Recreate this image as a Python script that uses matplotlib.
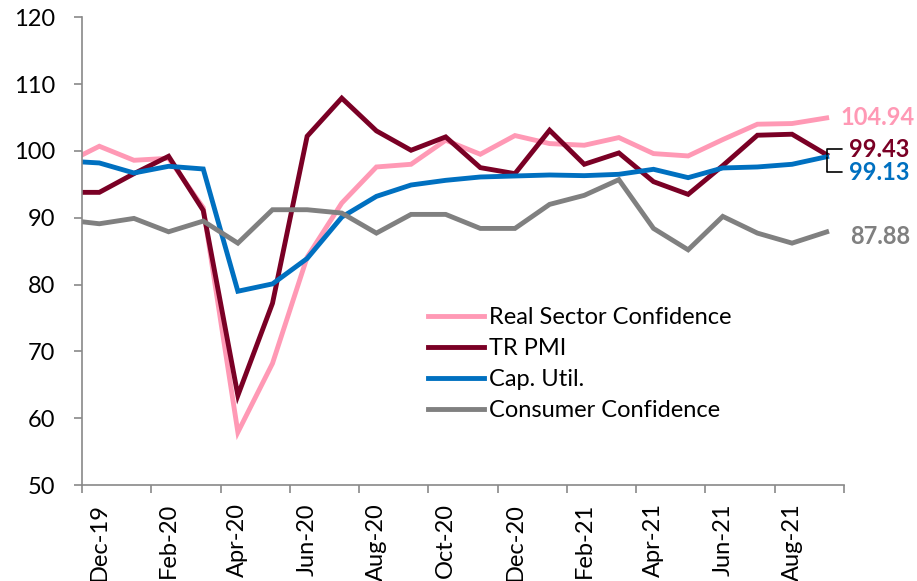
import matplotlib.pyplot as plt
import numpy as np

plt.rcParams['font.family'] = ['Lato', 'DejaVu Sans']

# months: Nov-19 (partly cut at the left edge) through Sep-21
months = ['Nov-19', 'Dec-19', 'Jan-20', 'Feb-20', 'Mar-20', 'Apr-20', 'May-20', 'Jun-20',
          'Jul-20', 'Aug-20', 'Sep-20', 'Oct-20', 'Nov-20', 'Dec-20', 'Jan-21', 'Feb-21',
          'Mar-21', 'Apr-21', 'May-21', 'Jun-21', 'Jul-21', 'Aug-21', 'Sep-21']

real_sector = [98.1, 100.7, 98.6, 98.9, 91.5, 57.9, 68.2, 84.1, 92.2, 97.6, 98.0, 101.6,
               99.5, 102.3, 101.1, 100.85, 102.0, 99.6, 99.25, 101.7, 104.0, 104.1, 104.94]
tr_pmi = [93.8, 93.8, 96.6, 99.2, 91.1, 63.4, 77.2, 102.2, 107.9, 103.0, 100.1, 102.1,
          97.5, 96.6, 103.1, 98.0, 99.7, 95.4, 93.5, 97.8, 102.35, 102.5, 99.43]
cap_util = [98.5, 98.2, 96.7, 97.7, 97.3, 79.0, 80.1, 83.9, 90.1, 93.2, 94.9, 95.6,
            96.1, 96.25, 96.4, 96.3, 96.5, 97.25, 96.0, 97.45, 97.6, 98.0, 99.13]
consumer = [89.7, 89.1, 89.9, 87.9, 89.5, 86.2, 91.2, 91.2, 90.7, 87.7, 90.5, 90.5,
            88.4, 88.4, 92.0, 93.35, 95.7, 88.4, 85.2, 90.2, 87.7, 86.2, 87.88]

x = np.arange(len(months)) - 1  # Dec-19 at 0

c_pink = '#FF99B5'
c_maroon = '#7A0025'
c_blue = '#0070C0'
c_gray = '#808080'

fig = plt.figure(figsize=(9.17, 5.81), dpi=100)
ax = fig.add_axes([82 / 917, 1 - 485 / 581, (844 - 82) / 917, (485 - 17.3) / 581])

lw = 3.5
ax.plot(x, real_sector, color=c_pink, lw=lw, label='Real Sector Confidence', solid_joinstyle='miter')
ax.plot(x, tr_pmi, color=c_maroon, lw=lw, label='TR PMI', solid_joinstyle='miter')
ax.plot(x, cap_util, color=c_blue, lw=lw, label='Cap. Util.', solid_joinstyle='miter')
ax.plot(x, consumer, color=c_gray, lw=lw, label='Consumer Confidence', solid_joinstyle='miter')

ax.set_xlim(-0.5, len(months) - 1.5)
ax.set_ylim(50, 120)
ax.set_yticks(range(50, 121, 10))

# category boundaries as ticks, labels centered on every second month
ax.set_xticks(np.arange(-0.5, len(months) - 1, 2))
ax.set_xticklabels([])
ax.set_xticks(x[1::2], minor=True)
ax.set_xticklabels(months[1::2], minor=True, rotation=90, fontsize=17)
ax.tick_params(axis='x', which='minor', length=0, pad=13)
ax.tick_params(axis='x', which='major', length=6, width=1.2, color='#898989', direction='out')
ax.tick_params(axis='y', length=6, width=1.2, color='#898989', direction='out', labelsize=17, pad=13)

for s in ['top', 'right']:
    ax.spines[s].set_visible(False)
for s in ['left', 'bottom']:
    ax.spines[s].set_color('#898989')
    ax.spines[s].set_linewidth(1.2)

leg = ax.legend(loc='upper left', bbox_to_anchor=(0.439, 0.405), frameon=False, fontsize=17,
                handlelength=2.35, handletextpad=0.2, labelspacing=0.42, borderpad=0)

# end labels
xe = x[-1]
ax.annotate(f'{real_sector[-1]:.2f}', xy=(xe, real_sector[-1]), xytext=(10, 0),
            textcoords='offset points', color=c_pink, fontsize=17, fontweight='bold',
            va='center', ha='left', annotation_clip=False)
ax.annotate(f'{consumer[-1]:.2f}', xy=(xe, consumer[-1]), xytext=(17, -3),
            textcoords='offset points', color=c_gray, fontsize=17, fontweight='bold',
            va='center', ha='left', annotation_clip=False)
ax.annotate(f'{tr_pmi[-1]:.2f}', xy=(xe, tr_pmi[-1]), xytext=(16, 4),
            textcoords='offset points', color=c_maroon, fontsize=17, fontweight='bold',
            va='center', ha='left', annotation_clip=False,
            arrowprops=dict(arrowstyle='-', color='black', lw=1.2, shrinkA=3, shrinkB=0,
                            relpos=(0, 0.5), connectionstyle='angle,angleA=0,angleB=90,rad=0'))
ax.annotate(f'{cap_util[-1]:.2f}', xy=(xe, cap_util[-1]), xytext=(16, -11),
            textcoords='offset points', color=c_blue, fontsize=17, fontweight='bold',
            va='center', ha='left', annotation_clip=False,
            arrowprops=dict(arrowstyle='-', color='black', lw=1.2, shrinkA=3, shrinkB=0,
                            relpos=(0, 0.5), connectionstyle='angle,angleA=0,angleB=90,rad=0'))

fig.savefig('out.png', dpi=100)
